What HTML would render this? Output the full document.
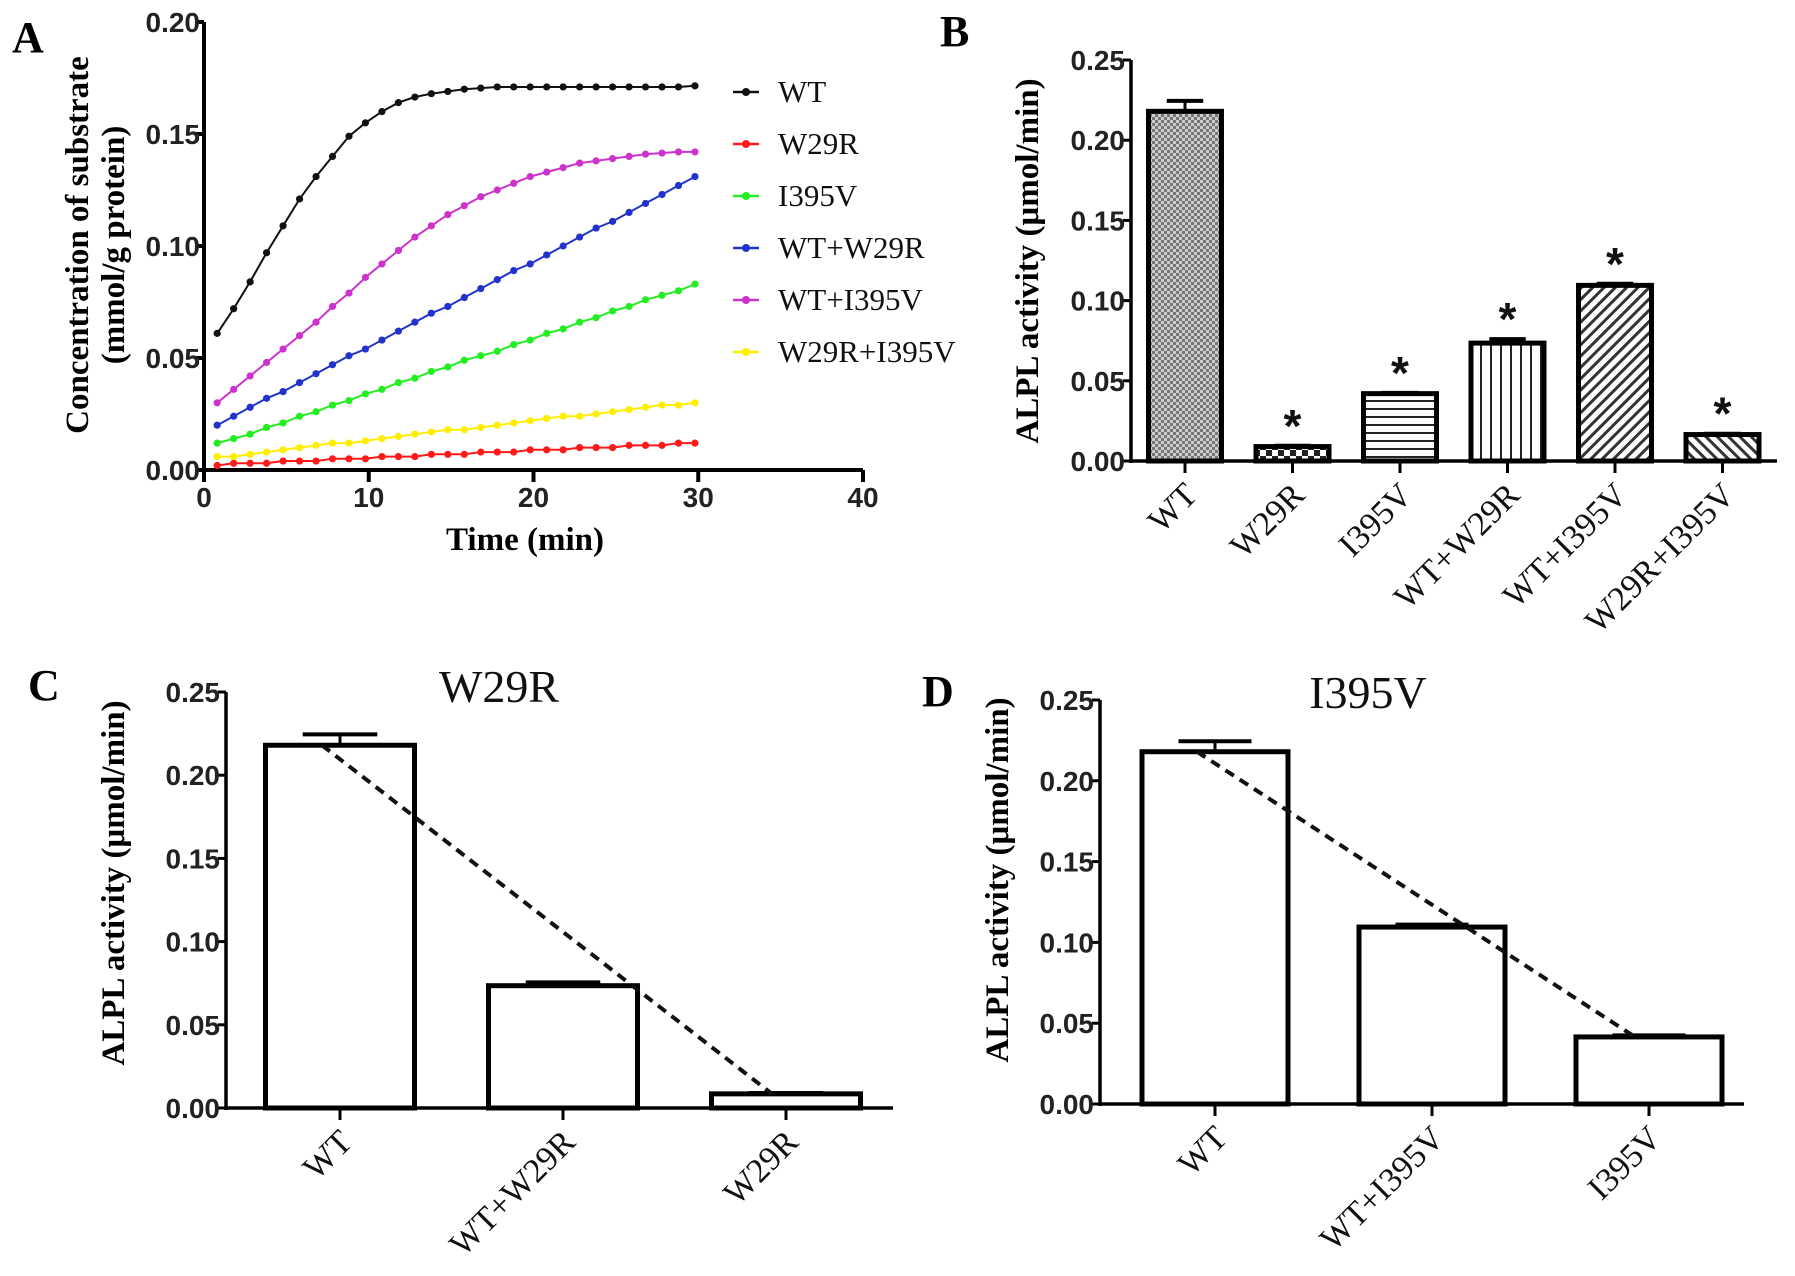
<!DOCTYPE html>
<html><head><meta charset="utf-8"><style>
html,body{margin:0;padding:0;background:#fff;}
svg{display:block;}
.tick{font-family:"Liberation Sans",Arial,sans-serif;font-weight:bold;font-size:28px;fill:#222;}
.ttl{font-family:"Liberation Serif","Times New Roman",serif;font-weight:bold;font-size:33px;fill:#000;}
.cat{font-family:"Liberation Serif","Times New Roman",serif;font-size:34px;fill:#111;}
.letter{font-family:"Liberation Serif",serif;font-weight:bold;font-size:44px;fill:#000;}
.leg{font-family:"Liberation Serif",serif;font-size:31px;fill:#111;}
</style></head><body>
<svg id="fig" width="1795" height="1276" viewBox="0 0 1795 1276" xmlns="http://www.w3.org/2000/svg">
<defs>
<pattern id="pWT" width="6" height="6" patternUnits="userSpaceOnUse"><rect width="6" height="6" fill="#777"/><rect width="3" height="3" fill="#ccc"/><rect x="3" y="3" width="3" height="3" fill="#ccc"/></pattern>
<pattern id="pW29R" width="12" height="12" patternUnits="userSpaceOnUse"><rect width="12" height="12" fill="#fff"/><rect width="6" height="6" fill="#222"/><rect x="6" y="6" width="6" height="6" fill="#222"/></pattern>
<pattern id="pH" width="8" height="8" patternUnits="userSpaceOnUse"><rect width="8" height="8" fill="#fff"/><rect y="0" width="8" height="2" fill="#222"/></pattern>
<pattern id="pV" width="10" height="10" patternUnits="userSpaceOnUse"><rect width="10" height="10" fill="#fff"/><rect x="0" width="2" height="10" fill="#222"/></pattern>
<pattern id="pD1" width="8" height="8" patternUnits="userSpaceOnUse" patternTransform="rotate(45)"><rect width="8" height="8" fill="#fff"/><rect width="3" height="8" fill="#333"/></pattern>
<pattern id="pD2" width="8" height="8" patternUnits="userSpaceOnUse" patternTransform="rotate(-45)"><rect width="8" height="8" fill="#fff"/><rect width="3" height="8" fill="#333"/></pattern>
</defs>
<g id="gA"></g>
<g id="gB"></g>
<g id="gC"></g>
<g id="gD"></g>
</svg>
<script>
// ---- Panel A data ----
const timesA = [0.8,1.8,2.8,3.8,4.8,5.8,6.8,7.8,8.8,9.8,10.8,11.8,12.8,13.8,14.8,15.8,16.8,17.8,18.8,19.8,20.8,21.8,22.8,23.8,24.8,25.8,26.8,27.8,28.8,29.8];
const seriesNamesA = ["WT","W29R","I395V","WT+W29R","WT+I395V","W29R+I395V"];
const seriesColorsA = ["#111","#ff1a1a","#22ee22","#2233cc","#cc33cc","#ffee00"];
const valsWT = [0.061,0.072,0.084,0.097,0.109,0.121,0.131,0.140,0.149,0.155,0.160,0.164,0.1665,0.168,0.169,0.170,0.1705,0.171,0.171,0.171,0.171,0.171,0.171,0.171,0.171,0.171,0.171,0.171,0.171,0.1715];
const valsW29R = [0.002,0.003,0.003,0.003,0.004,0.004,0.004,0.005,0.005,0.005,0.006,0.006,0.006,0.007,0.007,0.007,0.008,0.008,0.008,0.009,0.009,0.009,0.010,0.010,0.010,0.011,0.011,0.011,0.012,0.012];
const valsI395V = [0.012,0.014,0.016,0.019,0.021,0.024,0.026,0.029,0.031,0.034,0.036,0.039,0.041,0.044,0.046,0.049,0.051,0.053,0.056,0.058,0.061,0.063,0.066,0.068,0.071,0.073,0.076,0.078,0.080,0.083];
const valsWTW29R = [0.020,0.024,0.028,0.032,0.035,0.039,0.043,0.047,0.051,0.054,0.058,0.062,0.066,0.070,0.073,0.077,0.081,0.085,0.089,0.092,0.096,0.100,0.104,0.108,0.111,0.115,0.119,0.123,0.127,0.131];
const valsWTI395V = [0.030,0.036,0.042,0.048,0.054,0.060,0.066,0.073,0.079,0.086,0.092,0.098,0.104,0.109,0.114,0.118,0.122,0.125,0.128,0.131,0.133,0.135,0.137,0.138,0.139,0.140,0.141,0.1415,0.142,0.142];
const valsW29RI395V = [0.006,0.006,0.007,0.008,0.009,0.010,0.011,0.012,0.012,0.013,0.014,0.015,0.016,0.017,0.018,0.018,0.019,0.020,0.021,0.022,0.023,0.024,0.024,0.025,0.026,0.027,0.028,0.029,0.029,0.030];
const xTicksA = [0,10,20,30,40];
const yTicksA = ["0.00","0.05","0.10","0.15","0.20"];
// ---- Panel B data ----
const catsB = ["WT","W29R","I395V","WT+W29R","WT+I395V","W29R+I395V"];
const valsB = [0.218,0.009,0.042,0.0735,0.1095,0.0165];
const errB = [0.0065,0.0005,0.0005,0.0025,0.001,0.0005];
const starsB = [false,true,true,true,true,true];
const fillsB = ["url(#pWT)","url(#pW29R)","url(#pH)","url(#pV)","url(#pD1)","url(#pD2)"];
const yTicksBar = ["0.00","0.05","0.10","0.15","0.20","0.25"];
// ---- Panel C data ----
const catsC = ["WT","WT+W29R","W29R"];
const valsC = [0.218,0.0735,0.0085];
const errC = [0.0065,0.002,0.0005];
// ---- Panel D data ----
const catsD = ["WT","WT+I395V","I395V"];
const valsD = [0.218,0.1095,0.0415];
const errD = [0.0065,0.0015,0.001];

const NS="http://www.w3.org/2000/svg";
function mk(parent,tag,attrs,text){const e=document.createElementNS(NS,tag);for(const k in attrs)e.setAttribute(k,attrs[k]);if(text!==undefined)e.textContent=text;parent.appendChild(e);return e;}

// ---------- Panel A ----------
(function(){
  const g=document.getElementById('gA');
  const x0=204,x1=863,y0=470,y1=22;
  const xs=v=>x0+(v/40)*(x1-x0);
  const ys=v=>y0-(v/0.2)*(y0-y1);
  let t=mk(g,'text',{x:12,y:52,class:'letter'},'A');
  
  
  let ax=mk(g,'line',{x1:x0,y1:y0,x2:x1,y2:y0,stroke:'#000','stroke-width':4});
  
  
  let ay=mk(g,'line',{x1:x0,y1:y0+2,x2:x0,y2:y1,stroke:'#000','stroke-width':4});
  
  
  xTicksA.forEach(v=>{
    mk(g,'line',{x1:xs(v),y1:y0,x2:xs(v),y2:y0+12,stroke:'#000','stroke-width':4});
    let l=mk(g,'text',{x:xs(v),y:507,class:'tick','text-anchor':'middle'},String(v));
    
    
  });
  yTicksA.forEach(s=>{
    const v=parseFloat(s);
    mk(g,'line',{x1:x0-8,y1:ys(v),x2:x0,y2:ys(v),stroke:'#000','stroke-width':4});
    let l=mk(g,'text',{x:x0-4,y:ys(v)+10,class:'tick','text-anchor':'end'},s);
    
    
  });
  let xt=mk(g,'text',{x:525,y:550,class:'ttl','text-anchor':'middle'},'Time (min)');
  
  
  let yt=mk(g,'text',{x:0,y:0,class:'ttl','text-anchor':'middle',transform:'translate(88,245) rotate(-90)'},'Concentration of substrate');
  
  
  let yt2=mk(g,'text',{x:0,y:0,class:'ttl','text-anchor':'middle',transform:'translate(124,245) rotate(-90)'},'(mmol/g protein)');
  
  
  const all=[valsWT,valsW29R,valsI395V,valsWTW29R,valsWTI395V,valsW29RI395V];
  all.forEach((vals,si)=>{
    const col=seriesColorsA[si];
    const sg=mk(g,'g',{});
    
    
    const pts=vals.map((v,i)=>xs(timesA[i]).toFixed(1)+','+ys(v).toFixed(1)).join(' ');
    mk(sg,'polyline',{points:pts,fill:'none',stroke:col,'stroke-width':2});
    vals.forEach((v,i)=>{
      const c=mk(sg,'circle',{cx:xs(timesA[i]),cy:ys(v),r:3.6,fill:col});
      
      
    });
    const ly=92+si*52;
    const lg=mk(g,'g',{});
    
    
    mk(lg,'line',{x1:733,y1:ly,x2:759,y2:ly,stroke:col,'stroke-width':2.5});
    mk(lg,'circle',{cx:746,cy:ly,r:4,fill:col});
    mk(lg,'text',{x:778,y:ly+10,class:'leg'},seriesNamesA[si]);
  });
})();

// ---------- generic bar chart ----------
function barChart(cfg){
  const g=document.getElementById(cfg.id);
  const {x0,x1,y0,y1}=cfg;
  const ys=v=>y0-(v/0.25)*(y0-y1);
  let t=mk(g,'text',{x:cfg.lx,y:cfg.ly,class:'letter'},cfg.letter);
  
  
  if(cfg.title){
    let tt=mk(g,'text',{x:cfg.tx,y:cfg.ty,'text-anchor':'middle',style:'font-family:"Liberation Serif",serif;font-size:46px;fill:#111'},cfg.title);
    
    
  }
  yTicksBar.forEach(s=>{
    const v=parseFloat(s);
    mk(g,'line',{x1:x0-8,y1:ys(v),x2:x0,y2:ys(v),stroke:'#000','stroke-width':3});
    let l=mk(g,'text',{x:x0-6,y:ys(v)+10,class:'tick','text-anchor':'end'},s);
    
    
  });
  let yt=mk(g,'text',{x:0,y:0,class:'ttl','text-anchor':'middle',transform:`translate(${cfg.ytx},${cfg.yty}) rotate(-90)`},'ALPL activity (μmol/min)');
  
  
  const tops=[];
  cfg.cats.forEach((c,i)=>{
    const cx=cfg.c0+i*cfg.step, w=cfg.bw, v=cfg.vals[i];
    const bg=mk(g,'g',{});
    
    
    mk(bg,'line',{x1:cx,y1:ys(v),x2:cx,y2:ys(v+cfg.err[i]),stroke:'#000','stroke-width':3});
    mk(bg,'line',{x1:cx-w*0.25,y1:ys(v+cfg.err[i]),x2:cx+w*0.25,y2:ys(v+cfg.err[i]),stroke:'#000','stroke-width':4});
    mk(bg,'rect',{x:cx-w/2,y:ys(v),width:w,height:y0-ys(v),fill:cfg.fills?cfg.fills[i]:'#fff',stroke:'#000','stroke-width':5});
    tops.push([cx,ys(v)]);
    if(cfg.stars&&cfg.stars[i]){
      let s=mk(g,'text',{x:cx,y:ys(v+cfg.err[i])-4,'text-anchor':'middle',style:'font-family:"Liberation Sans",sans-serif;font-weight:bold;font-size:46px;fill:#111'},'*');
      
      
    }
    mk(g,'line',{x1:cx,y1:y0,x2:cx,y2:y0+12,stroke:'#000','stroke-width':3});
    let l=mk(g,'text',{x:0,y:0,class:'cat','text-anchor':'end',transform:`translate(${cx+14},${y0+36}) rotate(-45)`},c);
    
    
  });
  let ax=mk(g,'line',{x1:x0,y1:y0,x2:x1,y2:y0,stroke:'#000','stroke-width':3.5});
  
  
  let ay=mk(g,'line',{x1:x0,y1:y0+2,x2:x0,y2:y1,stroke:'#000','stroke-width':3.5});
  
  
  if(cfg.dash){
    const a=tops[0], b=tops[tops.length-1];
    let d=mk(g,'line',{x1:a[0]-18,y1:a[1],x2:b[0]-14,y2:b[1],stroke:'#111','stroke-width':4,'stroke-dasharray':'10,7'});
    
    
  }
}
barChart({id:'gB',letter:'B',lx:940,ly:46,x0:1131,x1:1777,y0:461,y1:60,cats:catsB,vals:valsB,err:errB,stars:starsB,fills:fillsB,c0:1185,step:107.5,bw:73,ytx:1038,yty:261});
barChart({id:'gC',letter:'C',lx:28,ly:700,title:'W29R',tx:499,ty:702,x0:226,x1:893,y0:1108,y1:692,cats:catsC,vals:valsC,err:errC,c0:340,step:223,bw:149,ytx:124,yty:883,dash:true});
barChart({id:'gD',letter:'D',lx:922,ly:706,title:'I395V',tx:1368,ty:708,x0:1100,x1:1744,y0:1104,y1:700,cats:catsD,vals:valsD,err:errD,c0:1215,step:217,bw:146,ytx:1008,yty:880,dash:true});
</script>
</body></html>
